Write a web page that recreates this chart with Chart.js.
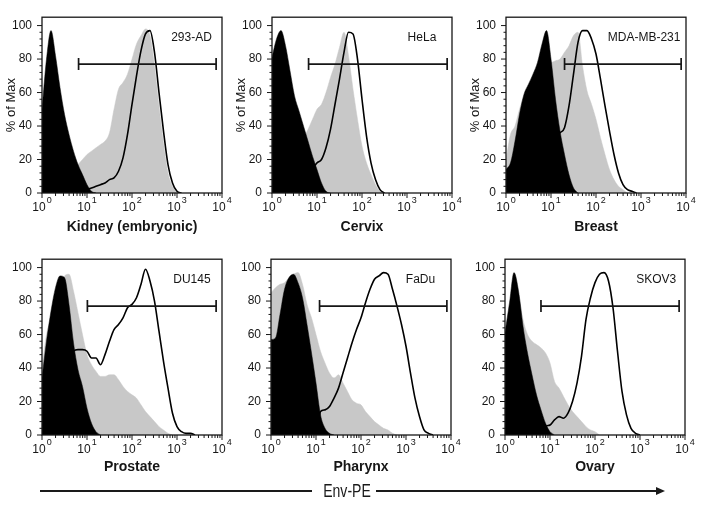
<!DOCTYPE html>
<html>
<head>
<meta charset="utf-8">
<title>Env-PE staining of six cell lines</title>
<script src="https://cdn.jsdelivr.net/npm/chart.js@4.4.1/dist/chart.umd.min.js"></script>
<style>
  html, body { margin: 0; padding: 0; background: #fff; }
  #page { position: relative; width: 702px; height: 510px; overflow: hidden;
          font-family: 'Liberation Sans', Arial, sans-serif; }
  canvas.panel { position: absolute; }
  .rule { position: absolute; top: 490px; height: 1.6px; background: #1a1a1a; }
  .head { position: absolute; left: 656px; top: 487px; width: 0; height: 0;
          border-left: 9px solid #1a1a1a; border-top: 4px solid transparent; border-bottom: 4px solid transparent; }
  .env-label { position: absolute; left: 312px; width: 70px; top: 481px; line-height: 20px;
               text-align: center; font-family: 'Liberation Sans', Arial, sans-serif;
               font-size: 18px; color: #1a1a1a; transform: scaleX(0.78); }
</style>
</head>
<body>
<div id="page">
  <canvas class="panel" id="p0" width="232" height="240" style="left:0;top:0"></canvas>
  <canvas class="panel" id="p1" width="232" height="240" style="left:230px;top:0"></canvas>
  <canvas class="panel" id="p2" width="232" height="240" style="left:464px;top:0"></canvas>
  <canvas class="panel" id="p3" width="232" height="238" style="left:0;top:242px"></canvas>
  <canvas class="panel" id="p4" width="232" height="238" style="left:229px;top:242px"></canvas>
  <canvas class="panel" id="p5" width="232" height="238" style="left:463px;top:242px"></canvas>

  <div class="rule" style="left:40px;width:272px"></div>
  <div class="env-label">Env-PE</div>
  <div class="rule" style="left:376px;width:281px"></div>
  <div class="head"></div>
</div>

<script>
/* ---------- DATA ---------- */
// log10 of the fluorescence channel for every histogram point
const EXPONENTS = [0, 0.1, 0.2, 0.3, 0.4, 0.5, 0.6, 0.7, 0.8, 0.9,
                   1, 1.1, 1.2, 1.3, 1.4, 1.5, 1.6, 1.7, 1.8, 1.9,
                   2, 2.1, 2.2, 2.3, 2.4, 2.5, 2.6, 2.7, 2.8, 2.9,
                   3, 3.1, 3.2, 3.3, 3.4, 3.5, 3.6, 3.7, 3.8, 3.9, 4];

const CELL_LINES = ['293-AD', 'HeLa', 'MDA-MB-231', 'DU145', 'FaDu', 'SKOV3'];
const TISSUES = ['Kidney (embryonic)', 'Cervix', 'Breast', 'Prostate', 'Pharynx', 'Ovary'];

const X_TICK_BASE = '10';
const X_TICK_POWERS = ['0', '1', '2', '3', '4'];
const Y_AXIS_TITLE = '% of Max';

// % of max, black filled / grey filled / open line
const kidneyBlack = [50, 80, 97, 82, 63, 47, 35, 25, 17, 11, 5, 1, 0];
const kidneyGray  = [0, 2, 4, 6, 8, 10, 12, 14, 17, 20, 23, 25, 27, 29, 31, 36, 50, 62, 66, 71,
                     80, 89, 94, 98, 94, 76, 52, 30, 12, 4, 0];
const kidneyLine  = [0, 0, 0, 0, 0, 0, 0, 0, 0, 1, 2, 3, 4, 5, 6, 8, 9, 13, 21, 35,
                     53, 70, 85, 95, 97, 84, 60, 37, 17, 6, 1, 0];

const cervixBlack = [81, 92, 97, 88, 73, 58, 49, 40, 31, 22, 14, 6, 1, 0];
const cervixGray  = [10, 14, 18, 22, 25, 28, 30, 33, 38, 44, 50, 53, 60, 69, 77, 87, 96, 82, 62, 44,
                     28, 18, 11, 5, 1, 0];
const cervixLine  = [0, 0, 0, 0, 0, 0, 0, 0, 14, 15, 18, 20, 27, 38, 53, 68, 84, 96, 95, 80,
                     56, 34, 18, 8, 2, 0];

const breastBlack = [14, 18, 31, 47, 59, 65, 71, 78, 89, 97, 80, 56, 37, 23, 11, 3, 0];
const breastGray  = [20, 35, 40, 50, 58, 62, 66, 70, 75, 80, 78, 79, 80, 84, 88, 94, 96, 76, 61, 53,
                     44, 33, 23, 14, 8, 4, 2, 0];
const breastLine  = [0, 0, 0, 0, 0, 0, 0, 0, 0, 0, 30, 34, 36, 39, 52, 71, 90, 97, 97, 92,
                     83, 68, 52, 37, 23, 12, 5, 2, 1, 0];

const prostateBlack = [34, 56, 74, 88, 95, 94, 78, 55, 39, 29, 16, 7, 2, 0];
const prostateGray  = [40, 60, 70, 82, 90, 95, 96, 86, 73, 60, 48, 42, 38, 35, 35, 36, 36, 33, 29, 26,
                       24, 22, 18, 14, 11, 8, 5, 3, 1, 0];
const prostateLine  = [0, 0, 0, 0, 0, 0, 0, 50, 51, 51, 50, 46, 46, 42, 48, 56, 63, 66, 70, 76,
                       78, 82, 90, 99, 92, 80, 62, 44, 28, 13, 5, 2, 1, 1, 0];

const pharynxBlack = [57, 58, 72, 87, 94, 96, 91, 82, 66, 49, 31, 12, 4, 1, 0];
const pharynxGray  = [85, 88, 90, 91, 94, 96, 97, 90, 78, 70, 60, 50, 43, 37, 34, 36, 31, 26, 21, 19,
                      18, 14, 11, 8, 6, 4, 3, 1, 0];
const pharynxLine  = [0, 0, 0, 0, 0, 0, 0, 0, 0, 0, 0, 14, 15, 17, 22, 28, 37, 46, 55, 63,
                      70, 79, 87, 93, 95, 97, 96, 87, 77, 66, 53, 37, 22, 11, 3, 1, 0];

const ovaryBlack = [61, 79, 97, 86, 65, 49, 36, 24, 15, 7, 2, 0];
const ovaryGray  = [50, 70, 90, 84, 69, 60, 56, 54, 52, 49, 43, 32, 28, 23, 18, 14, 11, 8, 5, 3, 2, 0];
const ovaryLine  = [0, 0, 0, 0, 0, 0, 0, 0, 0, 5, 6, 9, 11, 10, 13, 20, 31, 47, 69, 82,
                    91, 96, 97, 92, 76, 50, 26, 12, 4, 1, 0];

// positive gate: [low, high] channel value, drawn at a fixed % of max
const GATE_LOW  = [6.5, 6.5, 20, 10.2, 12, 6.3];
const GATE_HIGH = [7400, 7800, 7800, 7400, 8100, 7400];
const GATE_LEVEL = 77;

/* ---------- LAYOUT ---------- */
const PLOT_LEFT = 42, PLOT_TOP = 13, PLOT_BOTTOM = 193, PAD_RIGHT = 10;
const LABEL_AT = [2100, 2150, 1170, 2150, 2100, 2300];
const FONT = "'Liberation Sans', Arial, sans-serif";
const INK = '#161616';

Chart.defaults.font.family = FONT;
Chart.defaults.color = INK;

const panels = [
  [kidneyBlack, kidneyGray, kidneyLine],
  [cervixBlack, cervixGray, cervixLine],
  [breastBlack, breastGray, breastLine],
  [prostateBlack, prostateGray, prostateLine],
  [pharynxBlack, pharynxGray, pharynxLine],
  [ovaryBlack, ovaryGray, ovaryLine]
];

function toPoints(values) {
  return values.map((v, i) => ({ x: Math.pow(10, EXPONENTS[i]), y: v }));
}

/* ---------- FRAME, TICKS, LABELS ---------- */
const decor = {
  id: 'decor',
  afterDatasetsDraw(chart, args, opts) {
    const { ctx, chartArea: a, scales: { x, y } } = chart;
    ctx.save();
    ctx.strokeStyle = INK;
    ctx.lineWidth = 1.3;
    ctx.strokeRect(a.left, a.top, a.right - a.left, a.bottom - a.top);

    // x ticks: decades long, 2..9 short
    ctx.lineWidth = 1;
    ctx.beginPath();
    for (let d = 0; d <= 4; d++) {
      const base = Math.pow(10, d);
      const px = x.getPixelForValue(base);
      ctx.moveTo(px, a.bottom); ctx.lineTo(px, a.bottom + 5);
      if (d < 4) {
        for (let k = 2; k <= 9; k++) {
          const mx = x.getPixelForValue(k * base);
          ctx.moveTo(mx, a.bottom); ctx.lineTo(mx, a.bottom + 3);
        }
      }
    }
    // y ticks
    for (let v = 0; v <= 100; v += 4) {
      const py = y.getPixelForValue(v);
      ctx.moveTo(a.left, py); ctx.lineTo(a.left - (v % 20 === 0 ? 5 : 2.5), py);
    }
    ctx.stroke();

    // x tick labels 10^n
    ctx.fillStyle = INK;
    ctx.textBaseline = 'alphabetic';
    ctx.textAlign = 'left';
    X_TICK_POWERS.forEach((p, d) => {
      const px = x.getPixelForValue(Math.pow(10, d));
      ctx.font = '12px ' + FONT;
      const wBase = ctx.measureText(X_TICK_BASE).width;
      ctx.font = '9px ' + FONT;
      const wPow = ctx.measureText(p).width;
      const start = px - (wBase + wPow + 1) / 2;
      ctx.font = '12px ' + FONT;
      ctx.fillText(X_TICK_BASE, start, a.bottom + 18);
      ctx.font = '9px ' + FONT;
      ctx.fillText(p, start + wBase + 1, a.bottom + 10);
    });

    // cell line name
    ctx.font = '12px ' + FONT;
    ctx.textAlign = 'center';
    ctx.textBaseline = 'middle';
    ctx.fillText(opts.label, x.getPixelForValue(opts.labelAt), y.getPixelForValue(93));
    ctx.restore();
  }
};

/* ---------- CHARTS ---------- */
panels.forEach((series, i) => {
  const [black, gray, line] = series;
  const topRow = i < 3;
  new Chart(document.getElementById('p' + i), {
    type: 'line',
    data: {
      datasets: [
        {
          data: [{ x: GATE_LOW[i], y: GATE_LEVEL }, { x: GATE_HIGH[i], y: GATE_LEVEL }],
          borderColor: INK, borderWidth: 1.7,
          pointStyle: 'line', rotation: 90, pointRadius: 6,
          pointBorderColor: INK, pointBorderWidth: 1.7,
          fill: false, order: 0
        },
        {
          data: toPoints(line), borderColor: '#000', borderWidth: 1.6,
          pointRadius: 0, fill: false, cubicInterpolationMode: 'monotone', order: 1
        },
        {
          data: toPoints(black), borderColor: '#000', backgroundColor: '#000', borderWidth: 0.5,
          pointRadius: 0, fill: 'origin', cubicInterpolationMode: 'monotone', order: 2
        },
        {
          data: toPoints(gray), borderColor: '#c8c8c8', backgroundColor: '#c8c8c8', borderWidth: 0.5,
          pointRadius: 0, fill: 'origin', cubicInterpolationMode: 'monotone', order: 3
        }
      ]
    },
    options: {
      responsive: false,
      animation: false,
      layout: { padding: { left: 0, right: PAD_RIGHT, top: PLOT_TOP, bottom: 0 } },
      plugins: {
        legend: { display: false },
        tooltip: { enabled: false },
        decor: { label: CELL_LINES[i], labelAt: LABEL_AT[i] }
      },
      scales: {
        x: {
          type: 'logarithmic', min: 1, max: 10000,
          ticks: { display: false },
          grid: { display: false, drawTicks: false },
          border: { display: false },
          title: {
            display: true, text: TISSUES[i], color: INK,
            font: { size: 14, weight: 'bold' }, padding: { top: 0, bottom: 4 }
          },
          afterFit: s => { s.height = s.chart.height - PLOT_BOTTOM; }
        },
        y: {
          min: 0, max: 105,
          ticks: { stepSize: 20, includeBounds: false, padding: 10, font: { size: 12 }, color: INK },
          grid: { display: false, drawTicks: false },
          border: { display: false },
          title: { display: topRow, text: Y_AXIS_TITLE, color: INK, font: { size: 13 }, padding: { top: 4, bottom: 0 } },
          afterFit: s => { s.width = PLOT_LEFT; }
        }
      }
    },
    plugins: [decor]
  });
});
</script>
</body>
</html>
